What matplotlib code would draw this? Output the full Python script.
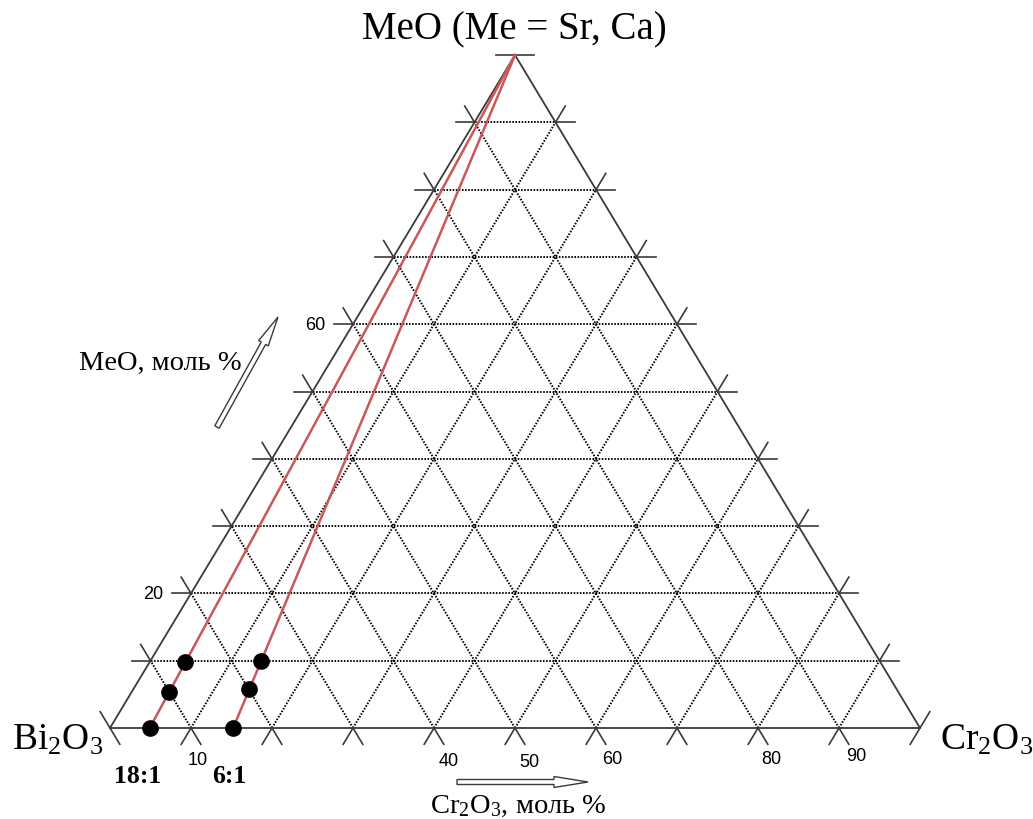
import numpy as np
import matplotlib
matplotlib.use("Agg")
import matplotlib.pyplot as plt
from matplotlib.patches import FancyArrow

plt.rcParams['mathtext.fontset'] = 'custom'
plt.rcParams['mathtext.rm'] = 'Liberation Serif'
plt.rcParams['mathtext.it'] = 'Liberation Serif:italic'

# ---------------- data ----------------
grid_levels = [0, 10, 20, 30, 40, 50, 60, 70, 80, 90, 100]        # mol %
left_tick_labels = {20: "20", 60: "60"}                          # MeO axis labels
bottom_tick_labels = {10: "10", 40: "40", 50: "50", 60: "60", 80: "80", 90: "90"}
# Cr2O3 share in (Bi2O3 + Cr2O3), % — for the two ratio lines
ratio_names = ["18:1", "6:1"]
ratio_cr_share = [4.9, 15.2]
# MeO content (mol %) of the experimental points on each ratio line
points_meo_18 = [0, 5.3, 9.8]
points_meo_6 = [0, 5.8, 10.0]

# ---------------- layout (pixels) ----------------
W_PX, H_PX = 1033, 820
LEFT_X, BASE_Y, SIDE_W, TRI_H = 110.0, 729.0, 810.0, 673.0
EXT = 19.0
EDGE_C = '#3a3a3a'
RED = '#c8585a'

fig = plt.figure(figsize=(W_PX / 100, H_PX / 100), dpi=100)
ax = fig.add_axes([0, 0, 1, 1])
ax.set_xlim(0, W_PX)
ax.set_ylim(H_PX, 0)
ax.axis('off')


def tern(meo, cr):
    """ternary (MeO %, Cr2O3 %) -> pixel position"""
    meo = np.asarray(meo, float)
    cr = np.asarray(cr, float)
    x = LEFT_X + cr / 100 * SIDE_W + meo / 100 * SIDE_W / 2
    y = BASE_Y - meo / 100 * TRI_H
    return x, y


def seg_with_ext(p0, p1, direction, inner_style, draw_ext=True):
    x0, y0 = p0
    x1, y1 = p1
    d = np.array(direction, float)
    d = d / np.hypot(*d)
    if np.hypot(x1 - x0, y1 - y0) > 1e-6:
        if inner_style == 'solid':
            ax.plot([x0, x1], [y0, y1], color=EDGE_C, lw=1.3, solid_capstyle='butt', zorder=2)
        else:
            ax.plot([x0, x1], [y0, y1], color='black', lw=1.4, linestyle=(0, (0.8, 0.8)), zorder=1)
    if draw_ext:
        ax.plot([x0 - d[0] * EXT, x0], [y0 - d[1] * EXT, y0], color=EDGE_C, lw=1.2, zorder=2)
        ax.plot([x1, x1 + d[0] * EXT], [y1, y1 + d[1] * EXT], color=EDGE_C, lw=1.2, zorder=2)


for k in grid_levels:
    inner = 'solid' if k in (0, 100) else 'dotted'
    ext = k != 0
    # constant MeO (horizontal)
    a = tern(k, 0); b = tern(k, 100 - k)
    seg_with_ext(a, b, (b[0] - a[0], b[1] - a[1]) if k < 100 else (1, 0), inner, ext)
    # constant Cr2O3 (parallel to left edge)
    a = tern(0, k); b = tern(100 - k, k)
    dl = np.subtract(tern(100, 0), tern(0, 0))
    seg_with_ext(a, b, dl, inner, ext)
    # constant Bi2O3 (parallel to right edge)
    a = tern(0, 100 - k); b = tern(100 - k, 0)
    dr = np.subtract(tern(100, 0), tern(0, 100))
    seg_with_ext(a, b, dr, inner, ext)

# ratio lines and points
for share, pts in zip(ratio_cr_share, [points_meo_18, points_meo_6]):
    x0, y0 = tern(0, share)
    x1, y1 = tern(100, 0)
    ax.plot([x0, x1], [y0, y1], color=RED, lw=1.8, zorder=3)
    pm = np.array(pts)
    px, py = tern(pm, share * (100 - pm) / 100)
    ax.plot(px, py, 'o', color='black', ms=11, zorder=4)

# ---------------- texts ----------------
serif = 'Liberation Serif'
sans = 'Liberation Sans'
ax.text(514, 30, "MeO (Me = Sr, Ca)", family=serif, fontsize=28, ha='center', va='center')
ax.text(12, 740, r"Bi$_2$O$_3$", family=serif, fontsize=27, ha='left', va='center')
ax.text(940, 740, r"Cr$_2$O$_3$", family=serif, fontsize=27, ha='left', va='center')

for v, lab in left_tick_labels.items():
    x, y = tern(v, 0)
    ax.text(x - 28, y, lab, family=sans, fontsize=13, ha='right', va='center')

bottom_offsets = {10: (7, 32), 40: (15, 33), 50: (14, 34), 60: (16, 31), 80: (13, 31), 90: (17, 28)}
for v, lab in bottom_tick_labels.items():
    x, y = tern(0, v)
    dx, dy = bottom_offsets[v]
    ax.text(x + dx, y + dy, lab, family=sans, fontsize=13, ha='center', va='center')

for name, share in zip(ratio_names, ratio_cr_share):
    x, y = tern(0, share)
    ax.text(x - 12 if name == "18:1" else x - 4, 777, name, family=serif, fontsize=18.5,
            fontweight='bold', ha='center', va='center')

ax.text(160, 363, "MeO, моль %", family=serif, fontsize=20.5, ha='center', va='center')
ax.text(518, 806, r"Cr$_2$O$_3$, моль %", family=serif, fontsize=20.5, ha='center', va='center')

ax.add_patch(FancyArrow(457, 783, 131, 0, width=5, head_width=11, head_length=34,
                        length_includes_head=True, fc='white', ec=EDGE_C, lw=1.0, zorder=5))
ax.add_patch(FancyArrow(217, 428, 61, -110, width=5, head_width=11, head_length=30,
                        length_includes_head=True, fc='white', ec=EDGE_C, lw=1.0, zorder=5))

fig.savefig("out.png", dpi=100)
